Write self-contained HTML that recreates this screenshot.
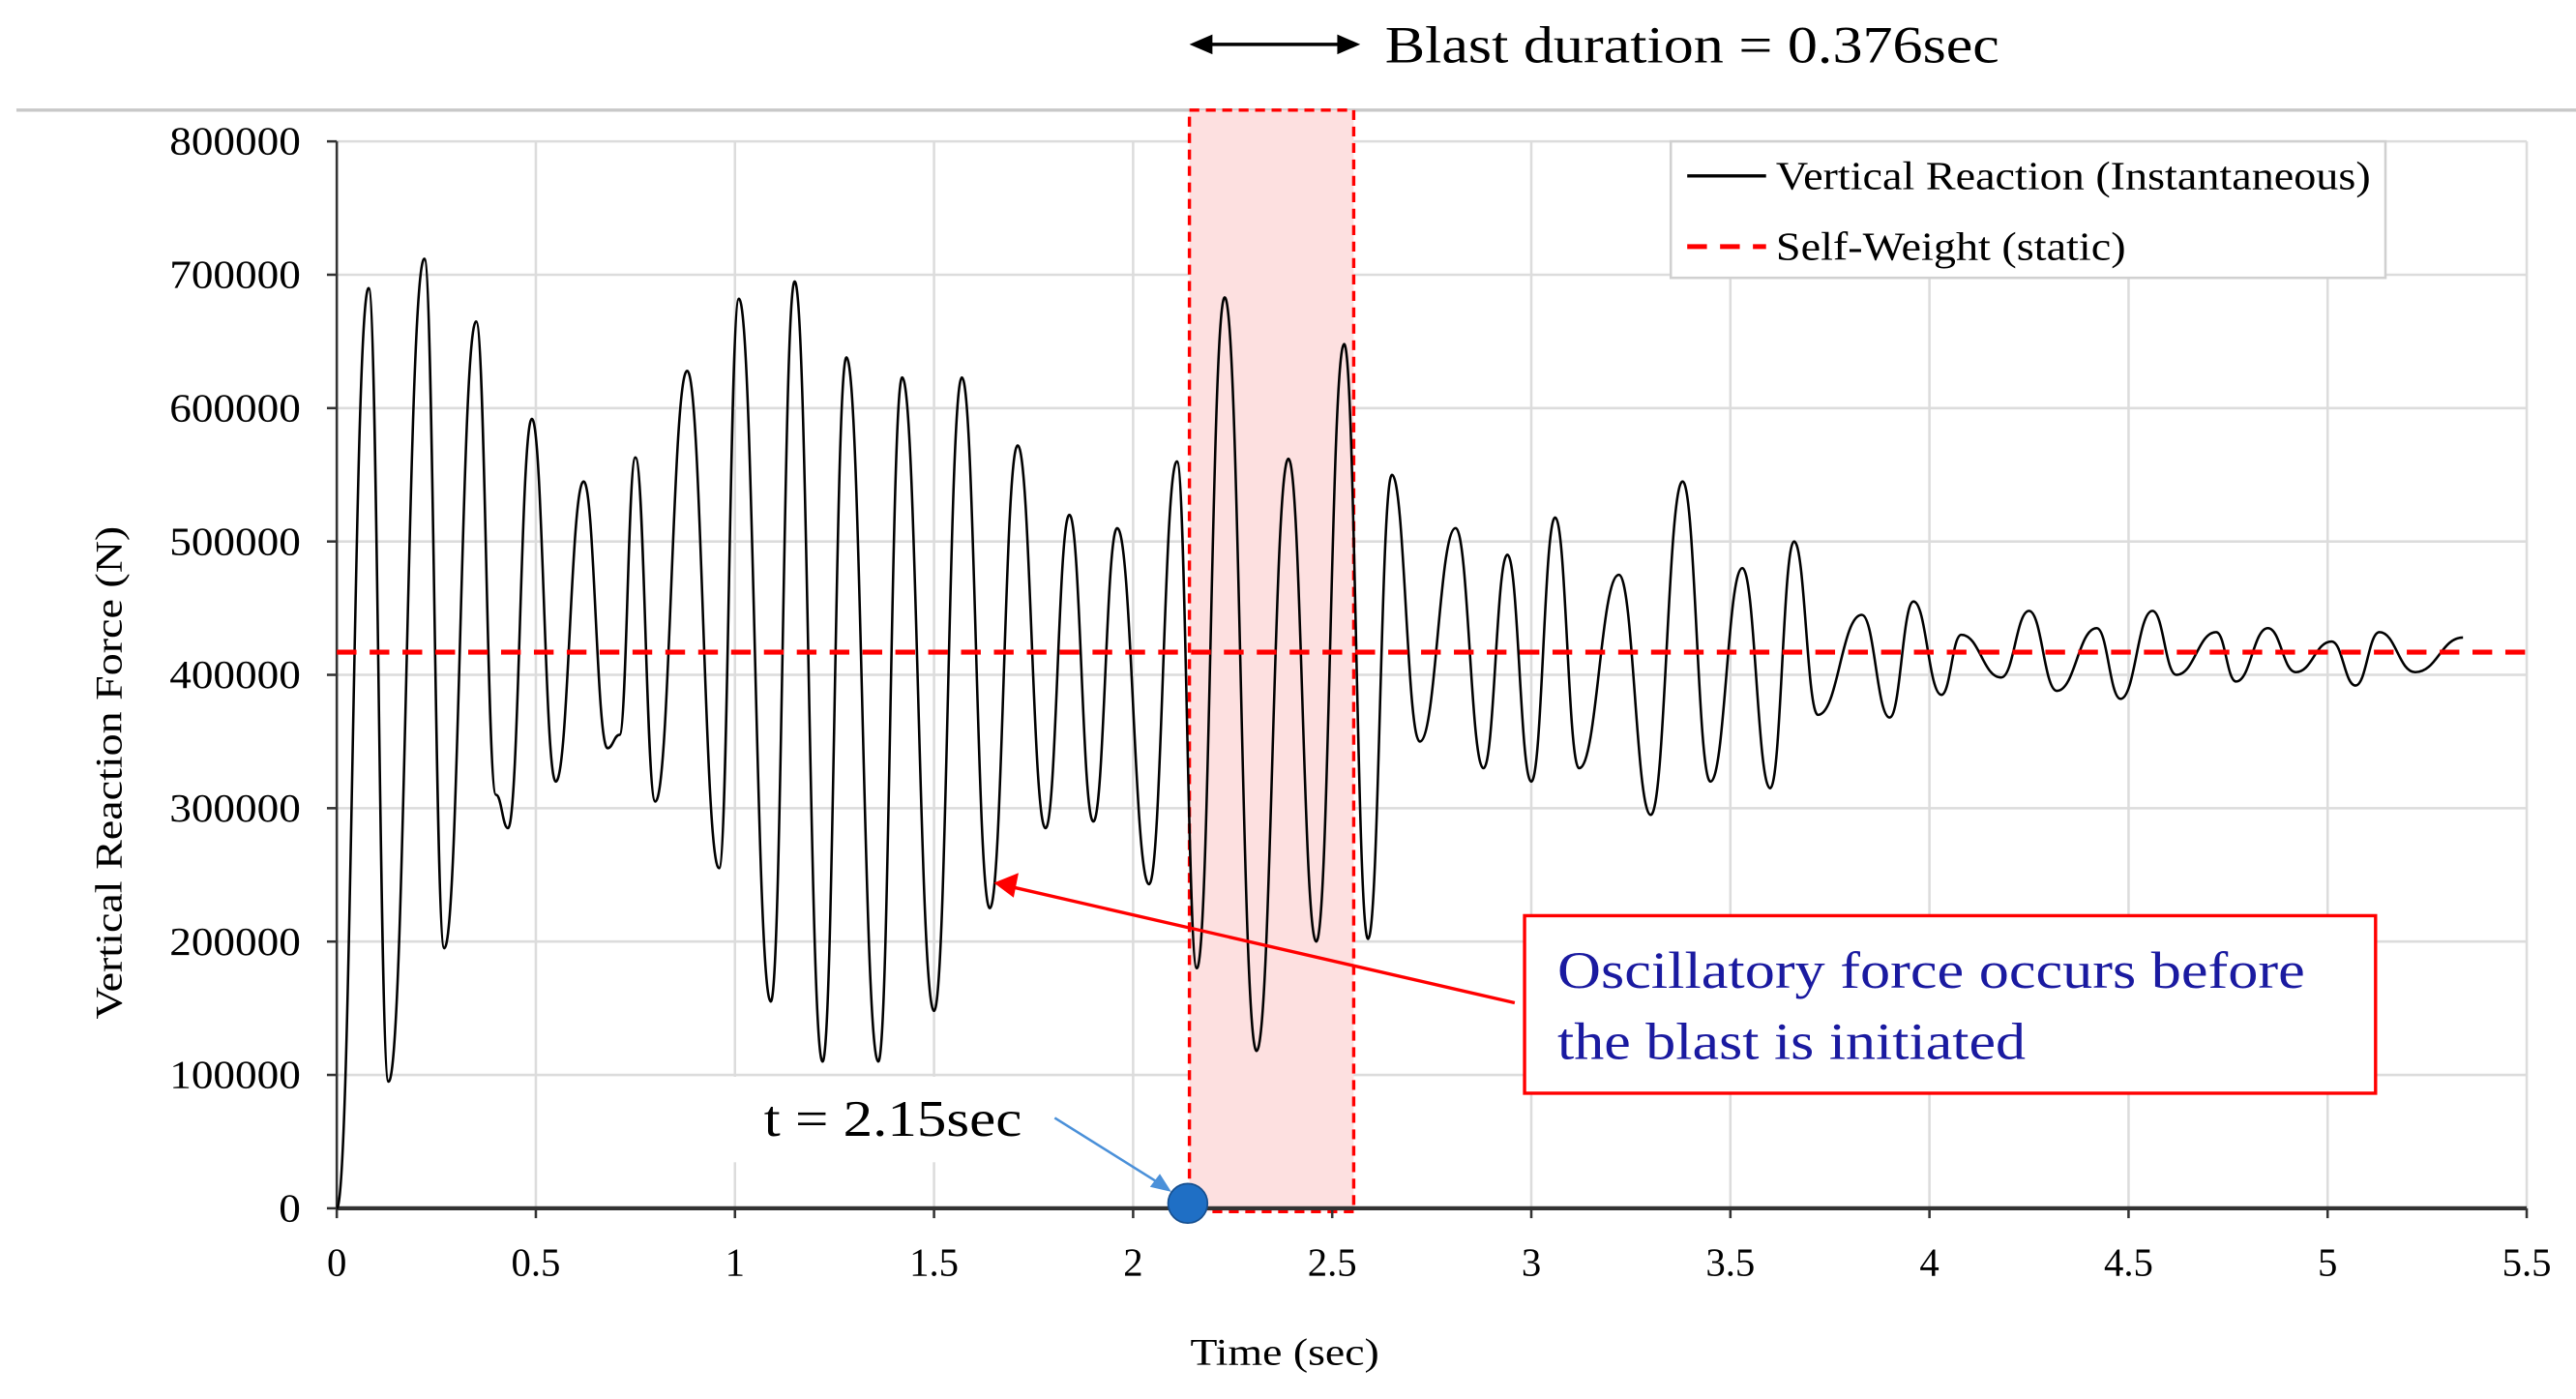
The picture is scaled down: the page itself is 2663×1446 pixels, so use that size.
<!DOCTYPE html>
<html><head><meta charset="utf-8"><style>
html,body{margin:0;padding:0;background:#fff;}
svg{display:block;font-family:"Liberation Serif",serif;}
</style></head><body>
<svg id="chart" width="2663" height="1446" viewBox="0 0 1568 851" preserveAspectRatio="none" xmlns="http://www.w3.org/2000/svg">
<line x1="10" y1="67" x2="1568" y2="67" stroke="#c8c8c8" stroke-width="2"/>
<g id="grid"></g>
<rect x="724" y="67" width="100" height="670" fill="#fde0e0" stroke="#ff0000" stroke-width="2" stroke-dasharray="6,4"/>
<g id="axes"></g>
<path id="series" fill="none" stroke="#000" stroke-width="1.5"/>
<line id="selfweight" stroke="#ff0000" stroke-width="3" stroke-dasharray="12,8"/>
<g>
<line x1="732" y1="27" x2="820" y2="27" stroke="#000" stroke-width="2"/>
<polygon points="724,27 738,21 738,33" fill="#000"/>
<polygon points="828,27 814,21 814,33" fill="#000"/>
<text x="843" y="38" font-size="32" textLength="374" lengthAdjust="spacingAndGlyphs">Blast duration = 0.376sec</text>
</g>
<g>
<rect x="1017" y="86" width="435" height="83" fill="#fff" stroke="#d0d0d0" stroke-width="1.5"/>
<line x1="1027" y1="107" x2="1075" y2="107" stroke="#000" stroke-width="2"/>
<text x="1081" y="115" font-size="24" textLength="362" lengthAdjust="spacingAndGlyphs">Vertical Reaction (Instantaneous)</text>
<line x1="1027" y1="150" x2="1075" y2="150" stroke="#ff0000" stroke-width="3" stroke-dasharray="12,8"/>
<text x="1081" y="158" font-size="24" textLength="213" lengthAdjust="spacingAndGlyphs">Self-Weight (static)</text>
</g>
<g>
<line x1="922" y1="610" x2="618" y2="540" stroke="#ff0000" stroke-width="2"/>
<polygon points="605,537 620,531 617,546" fill="#ff0000"/>
<rect x="928" y="557" width="518" height="108" fill="#fff" stroke="#ff0000" stroke-width="2"/>
<text x="948" y="601" font-size="32" fill="#1a1aa0" textLength="455" lengthAdjust="spacingAndGlyphs">Oscillatory  force  occurs  before</text>
<text x="948" y="644" font-size="32" fill="#1a1aa0" textLength="285" lengthAdjust="spacingAndGlyphs">the blast is initiated</text>
</g>
<g>
<rect x="440" y="655" width="200" height="52" fill="#fff"/>
<text x="465" y="691" font-size="31" textLength="157" lengthAdjust="spacingAndGlyphs">t = 2.15sec</text>
<line x1="642" y1="680" x2="706" y2="720" stroke="#4a90d9" stroke-width="1.5"/>
<polygon points="713,725 700,722 706,714" fill="#4a90d9"/>
<circle cx="723" cy="732" r="12" fill="#1f6fc5" stroke="#174f8f" stroke-width="1"/>
</g>
<text transform="translate(74,470) rotate(-90)" text-anchor="middle" font-size="23" textLength="300" lengthAdjust="spacingAndGlyphs">Vertical Reaction Force (N)</text>
<text x="782" y="830" text-anchor="middle" font-size="23" textLength="115" lengthAdjust="spacingAndGlyphs">Time (sec)</text>
</svg>
<script>
const xTicks=[0,0.5,1,1.5,2,2.5,3,3.5,4,4.5,5,5.5];
const yTicks=[0,100000,200000,300000,400000,500000,600000,700000,800000];
const selfWeight=[417000];
const times=[0,0.08,0.13,0.22,0.27,0.35,0.40,0.43,0.49,0.55,0.62,0.68,0.71,0.75,0.80,0.88,0.96,1.01,1.09,1.15,1.22,1.28,1.36,1.42,1.50,1.57,1.64,1.71,1.78,1.84,1.90,1.96,2.04,2.11,2.16,2.23,2.31,2.39,2.46,2.53,2.59,2.65,2.72,2.81,2.88,2.94,3.00,3.06,3.12,3.22,3.30,3.38,3.45,3.53,3.60,3.66,3.72,3.83,3.90,3.96,4.03,4.08,4.18,4.25,4.32,4.42,4.48,4.56,4.62,4.72,4.77,4.85,4.92,5.01,5.07,5.13,5.22,5.34];
const forces=[0,690000,95000,712000,195000,665000,310000,285000,592000,320000,545000,345000,355000,563000,305000,628000,255000,682000,155000,695000,110000,638000,110000,623000,148000,623000,225000,572000,285000,520000,290000,510000,243000,560000,180000,683000,118000,562000,200000,648000,202000,550000,350000,510000,330000,490000,320000,518000,330000,475000,295000,545000,320000,480000,315000,500000,370000,445000,368000,455000,385000,430000,398000,448000,388000,435000,382000,448000,400000,432000,395000,435000,402000,425000,392000,432000,402000,428000];
const X0=205,X1=1538,Y0=735,Y1=86;
function sx(t){return X0+(t-0)/(5.5-0)*(X1-X0);}
function sy(v){return Y0-(v/800000)*(Y0-Y1);}
const NS="http://www.w3.org/2000/svg";
const grid=document.getElementById('grid'),axes=document.getElementById('axes');
xTicks.forEach(t=>{
 if(t>0){const l=document.createElementNS(NS,'line');
 
 
 l.setAttribute('x1',sx(t));l.setAttribute('x2',sx(t));l.setAttribute('y1',Y1);l.setAttribute('y2',Y0);
 l.setAttribute('stroke','#dcdcdc');l.setAttribute('stroke-width','1.5');grid.appendChild(l);}
 const k=document.createElementNS(NS,'line');
 
 
 k.setAttribute('x1',sx(t));k.setAttribute('x2',sx(t));k.setAttribute('y1',Y0);k.setAttribute('y2',Y0+6);
 k.setAttribute('stroke','#333');k.setAttribute('stroke-width','1.5');axes.appendChild(k);
 const tx=document.createElementNS(NS,'text');
 
 
 tx.setAttribute('x',sx(t));tx.setAttribute('y',Y0+41);tx.setAttribute('text-anchor','middle');tx.setAttribute('font-size','24');
 tx.textContent=String(t);axes.appendChild(tx);
});
yTicks.forEach(v=>{
 if(v>0){const l=document.createElementNS(NS,'line');
 
 
 l.setAttribute('x1',X0);l.setAttribute('x2',X1);l.setAttribute('y1',sy(v));l.setAttribute('y2',sy(v));
 l.setAttribute('stroke','#dcdcdc');l.setAttribute('stroke-width','1.5');grid.appendChild(l);}
 const tx=document.createElementNS(NS,'text');
 
 
 tx.setAttribute('x',X0-22);tx.setAttribute('y',sy(v)+8);tx.setAttribute('text-anchor','end');tx.setAttribute('font-size','24');
 const s=String(v);
 tx.setAttribute('textLength',s.length*13.3);tx.setAttribute('lengthAdjust','spacingAndGlyphs');
 tx.textContent=s;axes.appendChild(tx);
 const k=document.createElementNS(NS,'line');
 
 
 k.setAttribute('x1',X0-6);k.setAttribute('x2',X0);k.setAttribute('y1',sy(v));k.setAttribute('y2',sy(v));
 k.setAttribute('stroke','#333');k.setAttribute('stroke-width','1.5');axes.appendChild(k);
});
const ya=document.createElementNS(NS,'line');


ya.setAttribute('x1',X0);ya.setAttribute('x2',X0);ya.setAttribute('y1',Y1);ya.setAttribute('y2',Y0);
ya.setAttribute('stroke','#333');ya.setAttribute('stroke-width','1.5');axes.appendChild(ya);
const xa=document.createElementNS(NS,'line');


xa.setAttribute('x1',X0);xa.setAttribute('x2',X1);xa.setAttribute('y1',Y0);xa.setAttribute('y2',Y0);
xa.setAttribute('stroke','#333');xa.setAttribute('stroke-width','2.5');axes.appendChild(xa);
let d='M'+sx(times[0])+','+sy(forces[0]);
for(let i=1;i<times.length;i++){
 const xa0=sx(times[i-1]),ya0=sy(forces[i-1]),xb=sx(times[i]),yb=sy(forces[i]);
 const dx=(xb-xa0)/2.2;
 d+=' C'+(xa0+dx)+','+ya0+' '+(xb-dx)+','+yb+' '+xb+','+yb;
}
document.getElementById('series').setAttribute('d',d);
const sw=document.getElementById('selfweight');
sw.setAttribute('x1',X0);sw.setAttribute('x2',X1);sw.setAttribute('y1',sy(selfWeight[0]));sw.setAttribute('y2',sy(selfWeight[0]));
</script>
</body></html>
